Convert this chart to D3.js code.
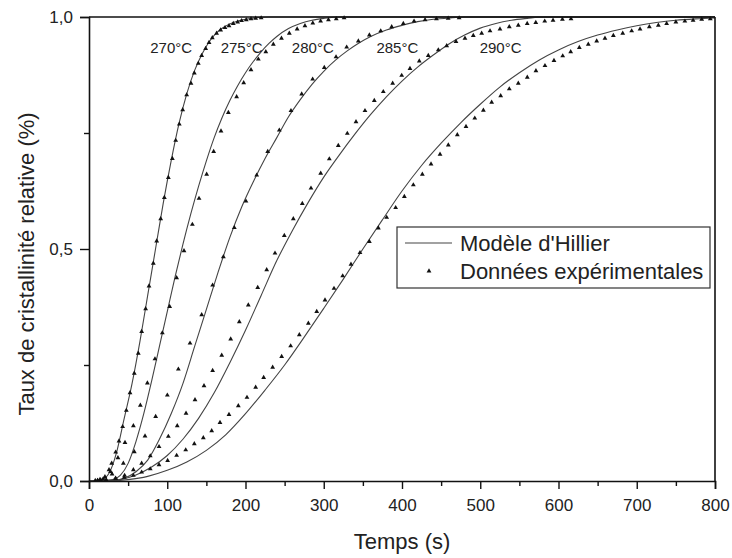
<!DOCTYPE html>
<html>
<head>
<meta charset="utf-8">
<script src="https://cdn.jsdelivr.net/npm/d3@7"></script>
<style>
    body { margin: 0; background: #fff; }
    text { font-family: "Liberation Sans", Arial, sans-serif; fill: #222; }
</style>
</head>
<body>
<div id="chart"></div>
<script>
let xTicks = [0, 100, 200, 300, 400, 500, 600, 700, 800];
let xMinorTicks = [50, 150, 250, 350, 450, 550, 650, 750];
let yTicks = [0, 0.5, 1];
let yMinorTicks = [0.25, 0.75];

let tempLabels = ["270°C", "275°C", "280°C", "285°C", "290°C"];
let tempLabelTimes = [105, 195, 286, 394, 526];

// Modèle d'Hillier, [temps, taux]
let model270 = [[0,0],[15,0.002],[25,0.015],[35,0.06],[45,0.135],[55,0.21],[65,0.3],[75,0.4],[85,0.5],[95,0.6],[105,0.69],[115,0.77],[125,0.835],[135,0.885],[145,0.922],[155,0.95],[165,0.969],[180,0.985],[200,0.995],[230,1],[800,1]];
let model275 = [[0,0],[30,0.003],[40,0.012],[50,0.038],[60,0.085],[70,0.145],[80,0.215],[90,0.29],[100,0.365],[110,0.44],[120,0.51],[130,0.575],[140,0.635],[150,0.69],[160,0.74],[170,0.783],[180,0.82],[190,0.852],[200,0.88],[210,0.904],[220,0.925],[230,0.943],[240,0.958],[255,0.975],[270,0.986],[285,0.993],[300,0.997],[320,1],[800,1]];
let model280 = [[0,0],[30,0.001],[45,0.006],[60,0.02],[75,0.045],[90,0.09],[105,0.145],[120,0.21],[135,0.29],[150,0.37],[165,0.45],[180,0.525],[195,0.59],[210,0.645],[225,0.695],[240,0.74],[255,0.785],[270,0.822],[285,0.855],[300,0.883],[315,0.907],[330,0.927],[345,0.944],[360,0.958],[380,0.972],[400,0.982],[420,0.99],[440,0.995],[460,0.998],[480,1],[800,1]];
let model285 = [[0,0],[20,0],[40,0.003],[60,0.013],[80,0.03],[100,0.055],[120,0.09],[140,0.135],[160,0.19],[180,0.255],[200,0.325],[220,0.4],[240,0.475],[260,0.54],[280,0.6],[300,0.655],[320,0.703],[340,0.748],[360,0.79],[380,0.828],[400,0.862],[420,0.892],[440,0.918],[460,0.942],[480,0.961],[500,0.976],[520,0.986],[540,0.993],[560,0.997],[580,1],[800,1]];
let model290 = [[0,0],[25,0],[50,0.003],[75,0.01],[100,0.023],[125,0.041],[150,0.066],[175,0.1],[200,0.145],[225,0.196],[250,0.25],[275,0.31],[300,0.372],[325,0.435],[350,0.5],[375,0.563],[400,0.625],[425,0.68],[450,0.728],[475,0.772],[500,0.812],[525,0.849],[550,0.88],[575,0.907],[600,0.929],[625,0.947],[650,0.961],[675,0.972],[700,0.981],[725,0.988],[750,0.993],[775,0.996],[800,0.998]];

// Données expérimentales, [temps, taux]
let exp270 = [[8,0.001],[14,0.003],[20.4,0.009],[25.6,0.024],[29,0.038],[34.1,0.062],[38.3,0.086],[43,0.117],[47.7,0.152],[52.4,0.19],[57.9,0.232],[63,0.275],[67.3,0.322],[72.4,0.371],[76.7,0.42],[82.2,0.469],[86.5,0.517],[91.6,0.565],[96.3,0.611],[101.4,0.654],[106.5,0.695],[110.8,0.734],[115.4,0.769],[119.7,0.8],[124.8,0.832],[130.3,0.857],[134.6,0.879],[139.7,0.9],[144,0.917],[149.1,0.932],[153.4,0.945],[157.6,0.955],[163.1,0.965],[168.2,0.972],[173.8,0.977],[178.9,0.981],[184.4,0.986],[190,0.989],[195,0.992],[201,0.994],[207,0.996],[213,0.997],[220,0.998]];
let exp275 = [[18,0.004],[27.5,0.02],[37,0.05],[46,0.083],[56.7,0.119],[65.6,0.163],[74.6,0.211],[84.3,0.263],[93.7,0.319],[103.1,0.376],[112,0.438],[121.4,0.496],[132.1,0.553],[140.6,0.609],[150.4,0.661],[159.3,0.71],[168.7,0.754],[178.1,0.794],[188.7,0.828],[197.7,0.858],[207,0.886],[216.4,0.909],[226,0.925],[235.6,0.941],[246,0.954],[256,0.965],[266,0.974],[276,0.981],[286,0.987],[296,0.991],[306,0.994],[316,0.996],[326,0.998]];
let exp280 = [[15,0.002],[29.5,0.015],[43.9,0.038],[57.9,0.063],[71.6,0.097],[85.2,0.139],[100.1,0.185],[114.2,0.241],[129.1,0.297],[144,0.358],[158,0.422],[171.7,0.483],[185.7,0.546],[200.6,0.603],[214.3,0.659],[228.4,0.71],[243.2,0.756],[258.1,0.798],[271.8,0.834],[285.8,0.866],[300.7,0.891],[315.7,0.914],[329.3,0.935],[344.2,0.948],[358.3,0.961],[372.8,0.97],[386.8,0.979],[401.7,0.986],[415.4,0.991],[429.5,0.994],[444,0.996],[459,0.997],[473,0.998]];
let exp285 = [[11,0.001],[22,0.002],[34,0.006],[45.5,0.012],[56.7,0.024],[67.3,0.038],[78.3,0.054],[89.5,0.074],[101.4,0.096],[112.8,0.119],[124,0.146],[135.5,0.175],[147,0.205],[158,0.238],[169.6,0.271],[181.1,0.306],[192.1,0.343],[203.6,0.379],[215.6,0.417],[227.1,0.455],[237.7,0.491],[249.6,0.529],[261.1,0.565],[272.6,0.598],[283.7,0.631],[296.1,0.663],[307.1,0.694],[318.6,0.723],[330.1,0.749],[341.2,0.774],[352.7,0.798],[364.6,0.82],[376.1,0.839],[388.1,0.857],[399.6,0.874],[410.2,0.889],[422.1,0.905],[433.6,0.917],[446.4,0.929],[457.1,0.938],[469,0.947],[480.5,0.954],[491.1,0.96],[501.8,0.965],[512.5,0.97],[525.2,0.974],[537.1,0.979],[548.6,0.982],[560,0.986],[571,0.988],[582.4,0.991],[593,0.993],[605,0.995],[616,0.996]];
let exp290 = [[11,0.001],[22,0.002],[34,0.005],[45,0.008],[56.7,0.012],[67.3,0.019],[78.3,0.026],[89.5,0.035],[100.5,0.044],[112,0.055],[123.6,0.067],[134.6,0.08],[146.1,0.093],[156.8,0.108],[167.4,0.126],[178.9,0.143],[190.8,0.162],[201.9,0.18],[213,0.202],[223.2,0.223],[234.7,0.245],[246.2,0.268],[257.7,0.291],[268.8,0.315],[280.3,0.34],[291,0.365],[301.6,0.39],[313.1,0.415],[324.2,0.442],[334.8,0.467],[346.3,0.492],[358.3,0.516],[369.8,0.545],[380.4,0.568],[391.9,0.589],[403,0.613],[414.5,0.638],[426,0.661],[437.1,0.683],[448.6,0.704],[459.2,0.724],[470.7,0.746],[481.8,0.764],[493,0.782],[504,0.799],[514.6,0.816],[526.1,0.83],[537.1,0.845],[548.6,0.857],[560.1,0.87],[571.2,0.884],[582.7,0.895],[594.2,0.906],[605.4,0.916],[615.6,0.925],[626.6,0.934],[638.1,0.941],[648.8,0.948],[659.4,0.954],[670.1,0.96],[682.1,0.965],[693.5,0.97],[704.2,0.974],[716.1,0.979],[727.6,0.982],[738.2,0.986],[750,0.989],[761.5,0.991],[772,0.993],[783,0.995],[794,0.996]];

let models = [model270, model275, model280, model285, model290];
let experiments = [exp270, exp275, exp280, exp285, exp290];

function drawChart(rootElement) {
    let width = 732;
    let height = 558;
    let left = 89, right = 715, top = 17, bottom = 481;

    let svg = d3.select("#" + rootElement).append("svg")
                .attr("width", width)
                .attr("height", height);

    let x = d3.scaleLinear().domain([0, 800]).range([left, right]);
    let y = d3.scaleLinear().domain([0, 1]).range([bottom, top]);

    let line = d3.line()
                .x(d => x(d[0]))
                .y(d => y(d[1]))
                .curve(d3.curveMonotoneX);

    models.forEach(m => {
        svg.append("path")
            .attr("d", line(m))
            .attr("fill", "none")
            .attr("stroke", "#444")
            .attr("stroke-width", 1.1);
    });

    let tri = d3.symbol().type(d3.symbolTriangle).size(10);
    experiments.forEach(e => {
        svg.append("g").selectAll("path")
            .data(e)
            .join("path")
            .attr("d", tri)
            .attr("transform", d => "translate(" + x(d[0]) + "," + y(d[1]) + ")")
            .attr("fill", "#111");
    });

    // frame top/right
    svg.append("line")
        .attr("x1", left).attr("x2", right).attr("y1", top).attr("y2", top)
        .attr("stroke", "#111").attr("stroke-width", 1.6);
    svg.append("line")
        .attr("x1", right).attr("x2", right).attr("y1", top).attr("y2", bottom)
        .attr("stroke", "#111").attr("stroke-width", 1.6);

    let fmtY = d => d3.format(".1f")(d).replace(".", ",");

    svg.append("g")
        .attr("transform", "translate(0," + bottom + ")")
        .call(d3.axisBottom(x).tickValues(xTicks).tickSize(8).tickPadding(10).tickFormat(d3.format("d")));
    svg.append("g")
        .attr("transform", "translate(0," + bottom + ")")
        .call(d3.axisBottom(x).tickValues(xMinorTicks).tickSize(5).tickFormat(""))
        .select(".domain").remove();

    svg.append("g")
        .attr("transform", "translate(" + left + ",0)")
        .call(d3.axisLeft(y).tickValues(yTicks).tickSize(9).tickPadding(7).tickFormat(fmtY));
    svg.append("g")
        .attr("transform", "translate(" + left + ",0)")
        .call(d3.axisLeft(y).tickValues(yMinorTicks).tickSize(5).tickFormat(""))
        .select(".domain").remove();

    svg.selectAll(".domain").attr("stroke", "#111").attr("stroke-width", 1.6);
    svg.selectAll(".tick line").attr("stroke", "#111").attr("stroke-width", 1.4);
    svg.selectAll(".tick text")
        .style("font-size", "17px")
        .style("font-family", "'Liberation Sans', Arial, sans-serif")
        .attr("fill", "#222");

    svg.append("text")
        .attr("x", (left + right) / 2)
        .attr("y", 549)
        .attr("text-anchor", "middle")
        .style("font-size", "22px")
        .text("Temps (s)");

    svg.append("text")
        .attr("transform", "translate(34,264) rotate(-90)")
        .attr("text-anchor", "middle")
        .style("font-size", "22px")
        .text("Taux de cristallinité relative (%)");

    tempLabels.forEach((t, i) => {
        svg.append("text")
            .attr("x", x(tempLabelTimes[i]))
            .attr("y", 53)
            .attr("text-anchor", "middle")
            .style("font-size", "15px")
            .text(t);
    });

    // legend
    let lg = svg.append("g");
    lg.append("rect")
        .attr("x", 397).attr("y", 227)
        .attr("width", 313).attr("height", 61)
        .attr("fill", "#fff")
        .attr("stroke", "#333")
        .attr("stroke-width", 1.2);
    lg.append("line")
        .attr("x1", 405).attr("x2", 452).attr("y1", 243).attr("y2", 243)
        .attr("stroke", "#444").attr("stroke-width", 1.1);
    lg.append("path")
        .attr("d", tri)
        .attr("transform", "translate(429,271)")
        .attr("fill", "#111");
    lg.append("text")
        .attr("x", 460).attr("y", 251)
        .style("font-size", "22px")
        .text("Modèle d'Hillier");
    lg.append("text")
        .attr("x", 460).attr("y", 279)
        .style("font-size", "22px")
        .text("Données expérimentales");
}

drawChart("chart");
</script>
</body>
</html>
